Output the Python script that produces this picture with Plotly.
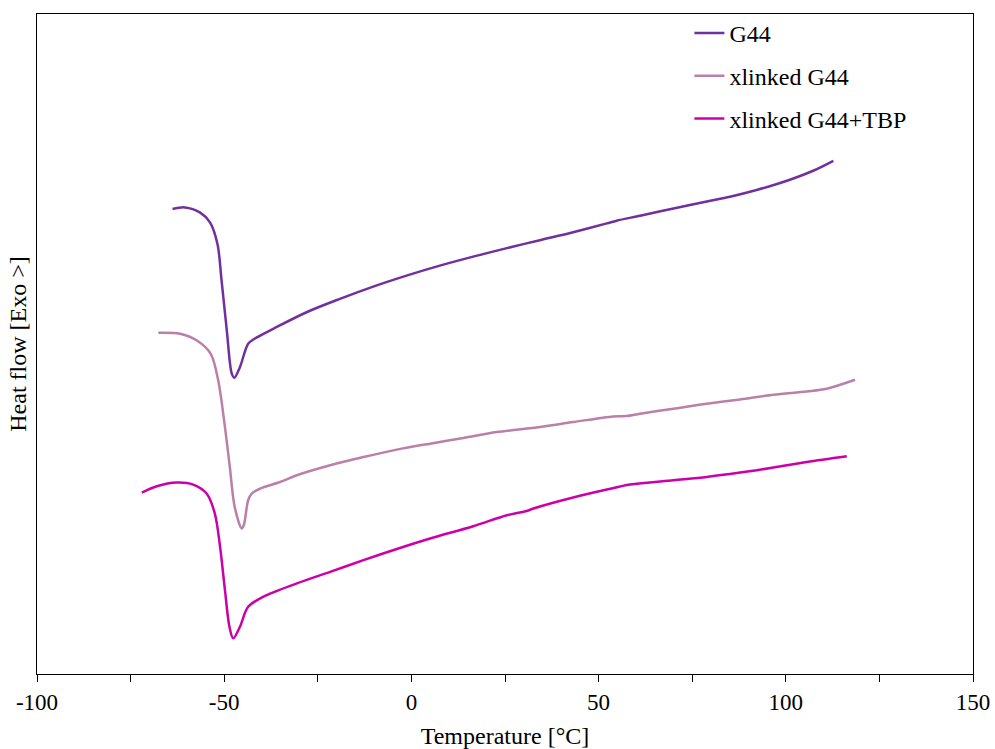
import plotly.graph_objects as go

# DSC heating scans: temperature [°C] and heat flow (arbitrary, exo up, curves offset)
g44_temp = [-63.8, -60.5, -56.5, -53.8, -51.8, -50.7, -49.3, -48.0, -47.3, -45.8, -43.6,
            -41.8, -36.9, -28.0, -19.1, -10.2, -1.3, 7.6, 16.5, 25.5, 34.3, 43.2, 52.2,
            54.8, 61.1, 70.0, 78.9, 85.1, 92.2, 101.1, 107.3, 112.7]
g44_flow = [465.7, 467.3, 462.3, 452.3, 430.7, 394.0, 344.0, 301.0, 296.7, 307.3, 330.7,
            336.0, 345.7, 362.3, 375.7, 388.0, 399.0, 409.0, 418.0, 426.5, 434.5, 442.5, 451.3,
            454.0, 459.0, 466.3, 473.3, 478.0, 484.7, 495.0, 504.0, 514.0]

xl_temp = [-67.6, -61.8, -57.3, -53.6, -51.6, -49.8, -48.5, -47.2, -45.3, -44.7, -43.6,
           -42.6, -40.4, -35.1, -30.6, -21.7, -12.8, -3.9, 5.0, 13.9, 22.8, 34.3, 43.2,
           53.9, 57.5, 61.1, 70.0, 78.9, 87.8, 96.7, 105.6, 110.9, 118.5]
xl_flow = [341.7, 340.7, 334.0, 320.7, 294.0, 247.3, 207.3, 167.3, 145.7, 150.0, 174.0,
           181.0, 185.7, 192.3, 199.0, 209.0, 217.3, 224.7, 230.7, 236.3, 242.3, 247.3, 252.3,
           258.0, 258.3, 260.7, 265.7, 270.7, 275.0, 279.7, 283.0, 285.7, 294.7]

tbp_temp = [-72.0, -68.0, -62.7, -58.3, -54.7, -52.5, -51.1, -49.8, -48.6, -47.6, -45.8,
            -43.6, -39.6, -30.6, -21.7, -12.8, -3.9, 5.0, 16.5, 25.5, 30.8, 32.6, 43.2,
            52.2, 58.4, 70.0, 78.9, 87.8, 96.7, 105.6, 116.3]
tbp_flow = [181.7, 188.0, 191.7, 189.7, 180.7, 160.7, 127.3, 84.0, 47.3, 35.7, 47.3,
            67.3, 77.3, 90.7, 102.3, 114.0, 125.2, 135.7, 148.0, 159.0, 163.3, 165.7, 176.7,
            184.7, 189.7, 194.0, 197.3, 201.7, 206.7, 212.3, 218.0]

x_ticks = [-100, -50, 0, 50, 100, 150]
x_tick_text = ["-100", "-50", "0", "50", "100", "150"]

series = [
    ("G44", g44_temp, g44_flow, "rgb(112,48,160)"),
    ("xlinked G44", xl_temp, xl_flow, "rgb(186,128,170)"),
    ("xlinked G44+TBP", tbp_temp, tbp_flow, "rgb(204,0,170)"),
]

FONT = "Liberation Serif, Times New Roman, serif"

fig = go.Figure()
for i, (name, t, q, col) in enumerate(series):
    fig.add_trace(go.Scatter(
        x=t, y=q, name=name, mode="lines", legendgroup=str(i),
        line=dict(color=col, width=2.5, shape="spline", smoothing=0.9),
    ))

fig.update_layout(
    width=995, height=749,
    margin=dict(l=37, r=22, t=13, b=75),
    paper_bgcolor="white", plot_bgcolor="white",
    font=dict(family=FONT, size=24, color="black"),
    showlegend=True,
    legend=dict(
        x=0.697, y=1.003, xanchor="left", yanchor="top",
        bgcolor="rgba(0,0,0,0)", borderwidth=0,
        font=dict(family=FONT, size=24, color="black"),
        tracegroupgap=8.5,
    ),
    xaxis=dict(
        range=[-100, 150], tickvals=x_ticks, ticktext=x_tick_text,
        showgrid=False, zeroline=False, automargin=False,
        showline=True, linecolor="black", linewidth=1.3, mirror=True,
        ticks="outside", ticklen=7, tickwidth=1.3, tickcolor="black",
        minor=dict(dtick=25, tick0=-100, ticks="outside", ticklen=7, tickwidth=1.3,
                   tickcolor="black"),
        tickfont=dict(family=FONT, size=23),
        title=dict(text="Temperature [°C]", font=dict(family=FONT, size=24), standoff=13),
    ),
    yaxis=dict(
        range=[0, 661], showticklabels=False, ticks="",
        showgrid=False, zeroline=False, automargin=False,
        showline=True, linecolor="black", linewidth=1.3, mirror=True,
        title=dict(text="Heat flow [Exo >]", font=dict(family=FONT, size=24), standoff=2),
    ),
)

fig.write_html("out.html")
